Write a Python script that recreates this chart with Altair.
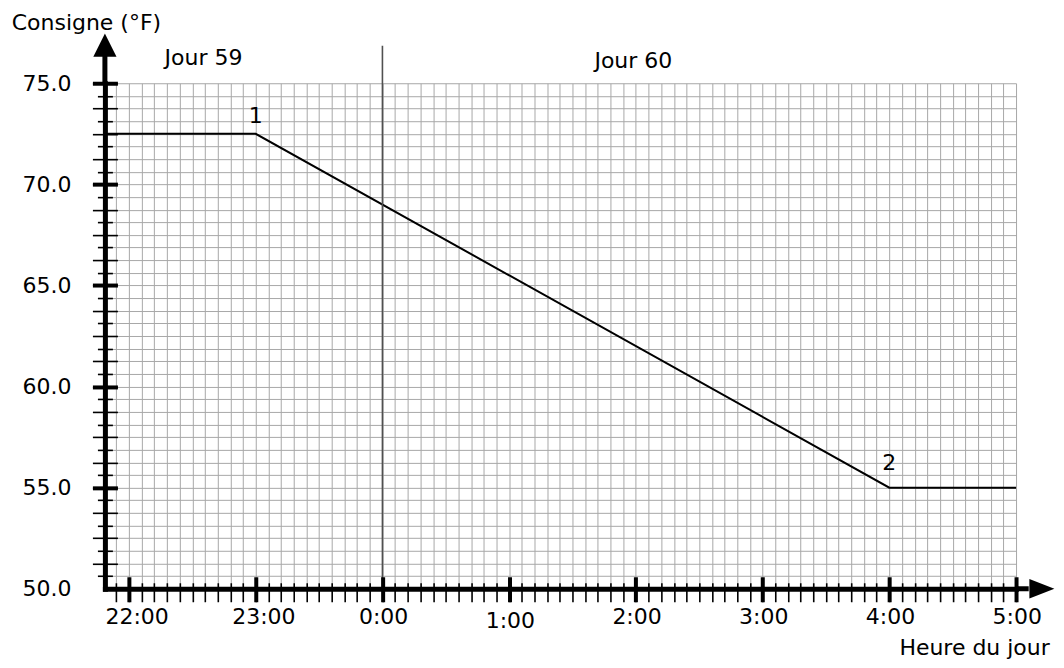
import altair as alt
import pandas as pd

# ---- data (hours counted from midnight of day 59; 24 = 0:00 of day 60) ----
X_MIN, X_MAX = 21.81, 29.0
Y_MIN, Y_MAX = 50.0, 75.0

TIME_H = [21.81, 23.0, 28.0, 29.0]
SETPOINT_F = [72.5, 72.5, 55.0, 55.0]

HOUR_TICKS = [22, 23, 24, 25, 26, 27, 28, 29]
Y_LABEL_TICKS = [50, 55, 60, 65, 70, 75]
Y_MAJOR = [55, 60, 65, 70, 75]
X_GRID = [round(21.9 + 0.1 * i, 2) for i in range(72)]
Y_GRID = [round(50.625 + 0.625 * i, 3) for i in range(40)]
Y_LONG = [round(51.25 + 1.25 * i, 3) for i in range(20)]
Y_SHORT = [round(50.625 + 1.25 * i, 3) for i in range(20)]

DAY_LABELS = ["Jour 59", "Jour 60"]
DAY_X = [22.588, 25.98]
DAY_Y = [76.25, 76.1]

POINT_LABELS = ["1", "2"]
POINT_X = [23.0, 28.0]
POINT_Y = [73.38, 56.2]

MIDNIGHT_X = [24.0]
MIDNIGHT_TOP = [76.86]

SHAFT_X = [29.0, X_MIN]
SHAFT_X2 = [29.1, X_MIN]
SHAFT_Y = [50.0, 75.0]
SHAFT_Y2 = [50.0, 76.4]

FONT = "DejaVu Sans"
FS = 22

line_df = pd.DataFrame({"t": TIME_H, "v": SETPOINT_F})
day_df = pd.DataFrame({"t": DAY_X, "v": DAY_Y, "label": DAY_LABELS})
pt_df = pd.DataFrame({"t": POINT_X, "v": POINT_Y, "label": POINT_LABELS})
mid_df = pd.DataFrame({"t": MIDNIGHT_X, "v": [Y_MIN], "v2": MIDNIGHT_TOP})
shaft_df = pd.DataFrame({"t": SHAFT_X, "t2": SHAFT_X2, "v": SHAFT_Y, "v2": SHAFT_Y2})
up_df = pd.DataFrame({"t": [X_MIN], "v": [76.88]})
right_df = pd.DataFrame({"t": [29.204], "v": [Y_MIN]})

xs = alt.Scale(domain=[X_MIN, X_MAX], nice=False, zero=False)
ys = alt.Scale(domain=[Y_MIN, Y_MAX], nice=False, zero=False)


def blank(**kw):
    base = dict(labels=False, ticks=False, domain=False, grid=False, title=None, zindex=1)
    base.update(kw)
    return alt.Axis(**base)


# grid + data line
grid_x = blank(grid=True, values=X_GRID, gridColor="#a8a8a8", gridWidth=1, zindex=0)
grid_y = blank(grid=True, values=Y_GRID, gridColor="#a8a8a8", gridWidth=1, zindex=0)
line = alt.Chart(line_df).mark_line(color="#000000", strokeWidth=2).encode(
    x=alt.X("t:Q", scale=xs, axis=grid_x),
    y=alt.Y("v:Q", scale=ys, axis=grid_y),
)

# midnight separator, with minor ticks
minor_x = blank(orient="bottom", ticks=True, values=X_GRID, tickSize=19, tickWidth=1.6,
                tickColor="#000000", offset=-6)
short_y = blank(orient="left", ticks=True, values=Y_SHORT, tickSize=15, tickWidth=1.6,
                tickColor="#000000", offset=-7.5)
mid = alt.Chart(mid_df).mark_rule(color="#505050", strokeWidth=1.6).encode(
    x=alt.X("t:Q", scale=xs, axis=minor_x),
    y=alt.Y("v:Q", scale=ys, axis=short_y),
    y2="v2:Q",
)

# day labels, with major x ticks and long y ticks
major_x = blank(orient="bottom", ticks=True, values=HOUR_TICKS, tickSize=25, tickWidth=4,
                tickColor="#000000", offset=-12)
long_y = blank(orient="left", ticks=True, values=Y_LONG, tickSize=25, tickWidth=1.6,
               tickColor="#000000", offset=-12.5)
days = alt.Chart(day_df).mark_text(font=FONT, fontSize=FS, color="#000000").encode(
    x=alt.X("t:Q", scale=xs, axis=major_x),
    y=alt.Y("v:Q", scale=ys, axis=long_y),
    text="label:N",
)

# point labels, with x labels/domain and major y ticks
label_x = alt.Axis(
    orient="bottom", values=HOUR_TICKS, labelExpr="(datum.value % 24) + ':00'",
    ticks=False, tickSize=0, grid=False, domain=True, domainColor="#000000",
    domainWidth=5, domainCap="square", labelFont=FONT, labelFontSize=FS,
    labelColor="#000000", labelAlign="left", labelOffset=-24,
    labelBaseline="top",
    labelPadding={"condition": {"test": "datum.value == 25", "value": 22}, "value": 18},
    labelFlush=False, labelOverlap=False,
    title="Heure du jour", titleFont=FONT, titleFontSize=FS, titleFontWeight="normal",
    titleColor="#000000", titleAngle=0, titleAlign="center", titleBaseline="alphabetic",
    titleX=870, titleY=66, zindex=2,
)
major_y = blank(orient="left", ticks=True, values=Y_MAJOR, tickSize=25, tickWidth=4,
                tickColor="#000000", offset=-12.5)
pts = alt.Chart(pt_df).mark_text(font=FONT, fontSize=FS, color="#000000").encode(
    x=alt.X("t:Q", scale=xs, axis=label_x),
    y=alt.Y("v:Q", scale=ys, axis=major_y),
    text="label:N",
)

# arrow shafts, with y labels/domain
label_y = alt.Axis(
    orient="left", values=Y_LABEL_TICKS, format=".1f", ticks=False, tickSize=0,
    grid=False, domain=True, domainColor="#000000", domainWidth=5, domainCap="square",
    labelFont=FONT, labelFontSize=FS, labelColor="#000000", labelAlign="right",
    labelBaseline="middle", labelPadding=34, labelFlush=False, labelOverlap=False,
    title="Consigne (°F)", titleFont=FONT, titleFontSize=FS, titleFontWeight="normal",
    titleColor="#000000", titleAngle=0, titleAlign="center", titleBaseline="alphabetic",
    titleX=-19, titleY=-54, zindex=2,
)
shafts = alt.Chart(shaft_df).mark_rule(color="#000000", strokeWidth=5).encode(
    x=alt.X("t:Q", scale=xs, axis=None),
    x2="t2:Q",
    y=alt.Y("v:Q", scale=ys, axis=label_y),
    y2="v2:Q",
)

up = alt.Chart(up_df).mark_point(shape="M0,-1L1,1L-1,1Z", size=540, filled=True,
                                 color="#000000", opacity=1).encode(
    x=alt.X("t:Q", scale=xs, axis=None),
    y=alt.Y("v:Q", scale=ys, axis=None),
)
right = alt.Chart(right_df).mark_point(shape="M1,0L-1,-0.78L-1,0.78Z", size=625, filled=True,
                                       color="#000000", opacity=1).encode(
    x=alt.X("t:Q", scale=xs, axis=None),
    y=alt.Y("v:Q", scale=ys, axis=None),
)

chart = (
    alt.layer(line, mid, days, pts, shafts, up, right)
    .resolve_axis(x="independent", y="independent")
    .properties(
        width=912, height=506,
        autosize=alt.AutoSizeParams(type="none"),
        padding={"left": 97, "top": 75, "right": 40, "bottom": 73},
        background="#ffffff",
    )
    .configure_view(stroke=None)
)

chart.save("out.html", embed_options={"renderer": "svg", "actions": False})
